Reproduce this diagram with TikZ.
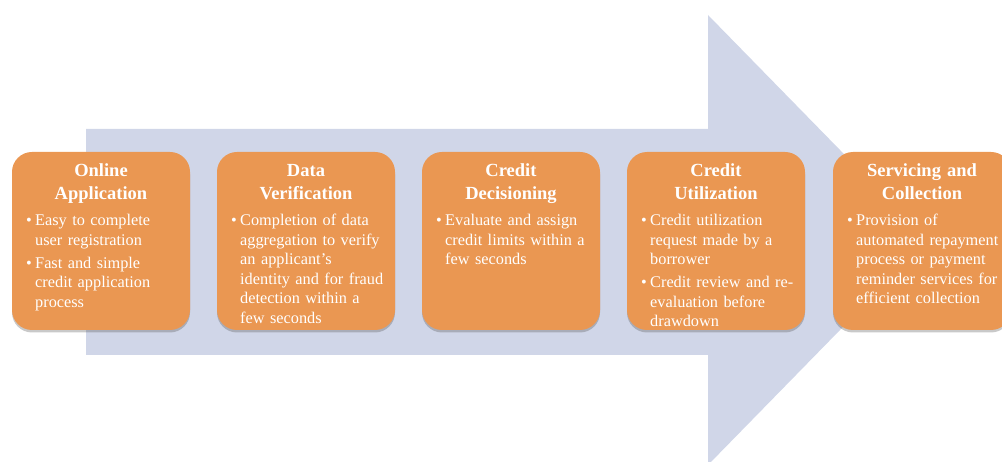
\documentclass[tikz,border=0pt]{standalone}
\usepackage{fontspec}
\setmainfont{Liberation Serif}
\usetikzlibrary{shadows}
\definecolor{boxorange}{RGB}{234,151,82}
\definecolor{arrowblue}{RGB}{208,214,232}
\newcommand{\bitem}[1]{\hangindent=9pt\hangafter=1\noindent\makebox[9pt][l]{\textbullet}#1\par}
\newcommand{\nl}{\newline}
\tikzset{
  stagebox/.style={fill=boxorange, draw=none, rounded corners=20pt, minimum width=178pt, minimum height=178pt, inner sep=0pt,
    drop shadow={shadow xshift=0pt, shadow yshift=-2.5pt, opacity=0.3, fill=black!70}},
  stagetitle/.style={text=white, font=\fontsize{18.5}{23}\selectfont\bfseries, text width=176pt, align=center, inner sep=0pt, anchor=base},
  stagebody/.style={text=white, font=\fontsize{16.3}{19.5}\selectfont, text width=178pt, align=left, inner sep=0pt, anchor=base west,
    execute at begin node={\setlength{\parskip}{3.5pt}}},
}
\begin{document}
\begin{tikzpicture}[x=1pt,y=-1pt]
\useasboundingbox (0,0) rectangle (1002,462);
\clip (0,0) rectangle (1002,462);
\fill[arrowblue] (86,129) -- (708,129) -- (708,15) -- (928,240) -- (708,465) -- (708,355) -- (86,355) -- cycle;

\node[stagebox] (b1) at (101,241) {};
\node[stagebox] (b2) at (306,241) {};
\node[stagebox] (b3) at (511,241) {};
\node[stagebox] (b4) at (716,241) {};
\node[stagebox] (b5) at (922,241) {};

\node[stagetitle] (t1) at (101,177) {Online\\Application};
\node[stagetitle] (t2) at (306,177) {Data\\Verification};
\node[stagetitle] (t3) at (511,177) {Credit\\Decisioning};
\node[stagetitle] (t4) at (716,177) {Credit\\Utilization};
\node[stagetitle] (t5) at (922,177) {Servicing and\\Collection};

\node[stagebody] (d1) at (26,226) {\bitem{Easy to complete\nl user registration}\bitem{Fast and simple\nl credit application\nl process}};
\node[stagebody] (d2) at (231,226) {\bitem{Completion of data\nl aggregation to verify\nl an applicant's\nl identity and for fraud\nl detection within a\nl few seconds}};
\node[stagebody] (d3) at (436,226) {\bitem{Evaluate and assign\nl credit limits within a\nl few seconds}};
\node[stagebody] (d4) at (641,226) {\bitem{Credit utilization\nl request made by a\nl borrower}\bitem{Credit review and re-\nl evaluation before\nl drawdown}};
\node[stagebody] (d5) at (847,226) {\bitem{Provision of\nl automated repayment\nl process or payment\nl reminder services for\nl efficient collection}};
\end{tikzpicture}
\end{document}
